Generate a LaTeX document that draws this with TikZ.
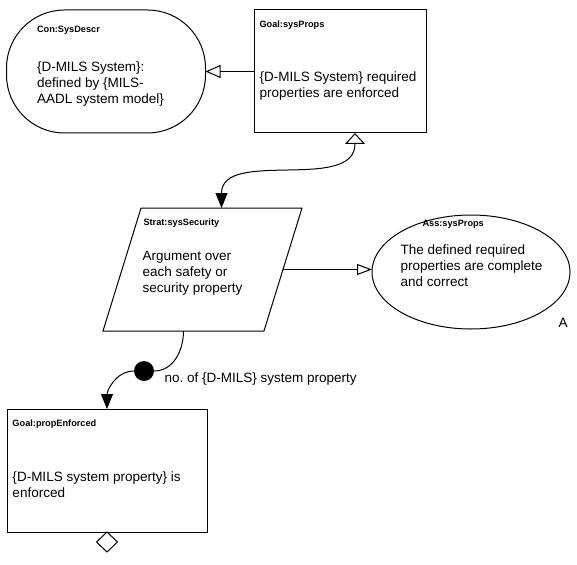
\documentclass[tikz,border=0pt]{standalone}
\usepackage{fontspec}
\setmainfont{Liberation Sans}
\usetikzlibrary{arrows.meta,positioning,shapes.geometric}
\tikzset{goalbox/.style={
    % The shape:
    rectangle,
    % The size:
    minimum height=123pt,
    % The border:
    draw=black,
    inner sep=0pt, outer sep=0pt
    },
    contextbox/.style={
    rectangle, rounded corners=58pt,
    minimum width=199pt, minimum height=123pt,
    draw=black,
    inner sep=0pt, outer sep=0pt
    },
    stratbox/.style={
    trapezium, trapezium left angle=72.8, trapezium right angle=107.2,
    trapezium stretches=true,
    minimum width=199pt, minimum height=123pt,
    draw=black,
    inner sep=2pt, outer sep=0pt
    },
    assbox/.style={
    ellipse,
    minimum width=198pt, minimum height=114pt,
    draw=black,
    inner sep=0pt, outer sep=0pt
    },
    undevbox/.style={
    diamond,
    minimum width=21pt, minimum height=20pt,
    draw=black,
    inner sep=0pt, outer sep=0pt
    },
    dotbox/.style={
    circle, fill=black,
    minimum size=20pt,
    inner sep=0pt, outer sep=0pt
    },
    % Font
    gsnlabel/.style={
    font=\fontsize{9.2}{11}\selectfont\bfseries,
    inner sep=0pt, anchor=west
    },
    gsntext/.style={
    font=\fontsize{13.5}{16}\selectfont,
    align=left, inner sep=0pt, anchor=west
    },
    openhead/.style={-{Triangle[open,length=15pt,width=13pt]}},
    solidhead/.style={-{Triangle[length=15pt,width=12pt]}},
}

\begin{document}
\begin{tikzpicture}[x=1pt, y=1pt, line width=1pt]
    \useasboundingbox (0,0) rectangle (577,-564);

    \node (sysdescr) [contextbox]                          at (106,-71.5) {};
    \node (sysgoal)  [goalbox, minimum width=172pt]       at (340,-71.5) {};
    \node (strat)    [stratbox]                            at (202.5,-269.5) {};
    \node (ass)      [assbox]                              at (471,-272) {};
    \node (propgoal) [goalbox, minimum width=200pt]       at (107,-470.5) {};
    \node (undev)    [undevbox, below=0pt of propgoal]     {};
    \node (many)     [dotbox]                              at (144,-371) {};

    \node (sysdescrLbl) [gsnlabel] at ([shift={(30,-20)}]sysdescr.north west) {Con:SysDescr};
    \node (sysdescrTxt) [gsntext]  at ([shift={(30,-74)}]sysdescr.north west)
        {\{D-MILS System\}:\\defined by \{MILS-\\AADL system model\}};
    \node (sysgoalLbl)  [gsnlabel] at ([shift={(5,-15)}]sysgoal.north west) {Goal:sysProps};
    \node (sysgoalTxt)  [gsntext]  at ([shift={(5,-76.5)}]sysgoal.north west)
        {\{D-MILS System\} required\\properties are enforced};
    \node (stratLbl)    [gsnlabel] at ([shift={(2,-15)}]strat.top left corner) {Strat:sysSecurity};
    \node (stratTxt)    [gsntext]  at ([shift={(1,-65)}]strat.top left corner)
        {Argument over\\each safety or\\security property};
    \node (assLbl)      [gsnlabel] at ([shift={(-49,48)}]ass.center) {Ass:sysProps};
    \node (assTxt)      [gsntext]  at ([shift={(-71,6)}]ass.center)
        {The defined required\\properties are complete\\and correct};
    \node (assA)        [gsntext]  at ([shift={(-12,-51)}]ass.east) {A};
    \node (propgoalLbl) [gsnlabel] at ([shift={(5,-15)}]propgoal.north west) {Goal:propEnforced};
    \node (propgoalTxt) [gsntext]  at ([shift={(5,-76)}]propgoal.north west)
        {\{D-MILS system property\} is\\enforced};
    \node (manyTxt)     [gsntext, right=10pt of many, yshift=-8pt] {no.\ of \{D-MILS\} system property};

    \draw[openhead] (sysgoal.west) -- (sysdescr.east);
    \draw[{Triangle[open,length=11pt,width=20pt]}-{Triangle[length=15pt,width=12pt]}]
        ([xshift=15pt]sysgoal.south) to[out=-90,in=90] (strat.top side);
    \draw[-{Triangle[open,length=15pt,width=11pt]}] (strat.right side) -- (strat.right side -| ass.west);
    \draw (strat.bottom side) to[out=-90,in=0] (many);
    \draw[solidhead] (many) to[out=180,in=90] (propgoal.north);
\end{tikzpicture}
\end{document}
